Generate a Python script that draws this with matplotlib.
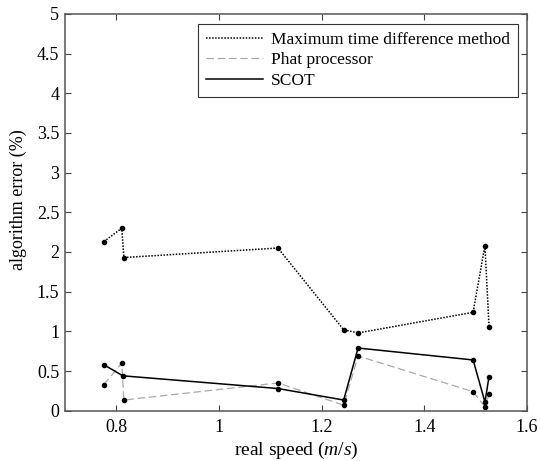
import matplotlib
matplotlib.use('Agg')
import matplotlib.pyplot as plt

# real speed (m/s) for each series
mtd_x = [0.776, 0.811, 0.815, 1.115, 1.243, 1.271, 1.495, 1.518, 1.526]
mtd_y = [2.13, 2.30, 1.93, 2.05, 1.02, 0.98, 1.24, 2.08, 1.06]

phat_x = [0.776, 0.811, 0.815, 1.115, 1.243, 1.271, 1.495, 1.518, 1.526]
phat_y = [0.33, 0.60, 0.135, 0.35, 0.07, 0.69, 0.24, 0.05, 0.21]

scot_x = [0.776, 0.813, 1.115, 1.243, 1.271, 1.495, 1.518, 1.526]
scot_y = [0.58, 0.44, 0.28, 0.135, 0.79, 0.64, 0.11, 0.43]

x_ticks = [0.8, 1.0, 1.2, 1.4, 1.6]
x_tick_labels = ['0.8', '1', '1.2', '1.4', '1.6']
y_ticks = [0, 0.5, 1, 1.5, 2, 2.5, 3, 3.5, 4, 4.5, 5]
y_tick_labels = ['0', '0.5', '1', '1.5', '2', '2.5', '3', '3.5', '4', '4.5', '5']

plt.rcParams['font.family'] = ['Liberation Serif', 'DejaVu Serif']
plt.rcParams['mathtext.fontset'] = 'custom'
plt.rcParams['mathtext.it'] = 'Liberation Serif:italic'
plt.rcParams['mathtext.rm'] = 'Liberation Serif'

fig = plt.figure(figsize=(5.4, 4.61), dpi=100)
ax = fig.add_axes([0.120, 0.109, 0.856, 0.861])

ax.plot(mtd_x, mtd_y, linestyle=(0, (1, 1)), color='black', lw=1.1,
        marker='o', markersize=3, markerfacecolor='black', markeredgecolor='black',
        label='Maximum time difference method')
ax.plot(phat_x, phat_y, linestyle=(0, (6, 3)), color='#aaaaaa', lw=0.9,
        marker='o', markersize=3, markerfacecolor='black', markeredgecolor='black',
        label='Phat processor')
ax.plot(scot_x, scot_y, linestyle='-', color='black', lw=1.1,
        marker='o', markersize=3, markerfacecolor='black', markeredgecolor='black',
        label='SCOT')

ax.set_xlim(0.7, 1.6)
ax.set_ylim(0, 5)
ax.set_xticks(x_ticks)
ax.set_xticklabels(x_tick_labels)
ax.set_yticks(y_ticks)
ax.set_yticklabels(y_tick_labels)
ax.tick_params(direction='in', top=True, right=True, labelsize=13,
               length=4, width=0.8, color='#444444')
ax.tick_params(axis='x', pad=6)
ax.tick_params(axis='y', pad=4)
for s in ax.spines.values():
    s.set_color('#555555')
    s.set_linewidth(1.1)

ax.set_xlabel(r'real speed ($m/s$)', fontsize=14, labelpad=3)
ax.set_ylabel('algorithm error (%)', fontsize=13)
ax.yaxis.set_label_coords(-0.082, 0.531)

leg = ax.legend(loc='upper right', bbox_to_anchor=(0.9805, 0.975), fontsize=12.5,
                frameon=True, fancybox=False, handlelength=3.3, borderpad=0.45,
                labelspacing=0.26, handletextpad=0.46, borderaxespad=0)
leg.get_frame().set_edgecolor('black')
leg.get_frame().set_linewidth(0.8)
for h in leg.get_lines():
    h.set_marker('')

plt.savefig('out.png', dpi=100)
